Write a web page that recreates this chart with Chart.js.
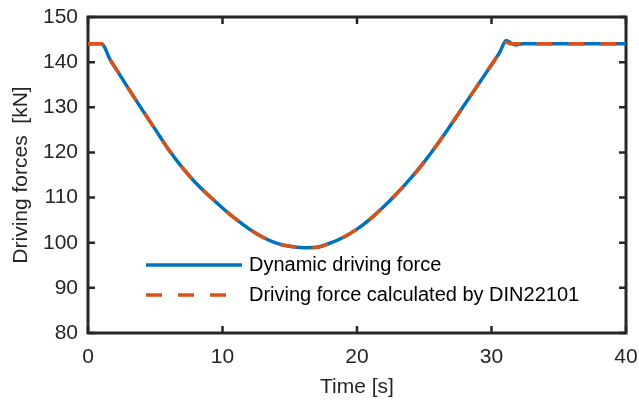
<!DOCTYPE html>
<html>
<head>
<meta charset="utf-8">
<script src="https://cdn.jsdelivr.net/npm/chart.js@4.4.1/dist/chart.umd.min.js"></script>
<style>
  html, body { margin: 0; padding: 0; background: #fff; }
</style>
</head>
<body>
<canvas id="forceChart" width="639" height="402"></canvas>
<script>
// time axis [s]
const timeS = [0, 0.5, 1.0, 1.2, 1.6, 2, 3, 4, 5, 6, 7, 8, 9, 10, 11, 12, 13, 14, 15, 16,
    17, 18, 19, 20, 21, 22, 23, 24, 25, 26, 27, 28, 29, 30, 30.6, 31.1, 31.4, 31.8, 32.3,
    34, 36, 38, 40];
// driving forces [kN]
const dynamicForce = [144.1, 144.1, 144.1, 143.5, 140.8, 138.9, 134.2, 129.6, 125.1, 120.6,
    116.7, 113.3, 110.4, 107.7, 105.2, 103.0, 101.2, 99.9, 99.2, 98.9, 99.0, 99.9, 101.2,
    103.0, 105.3, 108.0, 111.0, 114.3, 117.9, 121.9, 126.2, 130.6, 135.0, 139.4, 142.1,
    144.8, 144.3, 143.8, 144.1, 144.1, 144.1, 144.1, 144.1];
const dinForce = [144.1, 144.1, 144.1, 143.5, 140.8, 138.9, 134.2, 129.6, 125.1, 120.6,
    116.7, 113.3, 110.4, 107.7, 105.2, 103.0, 101.2, 99.9, 99.2, 98.9, 99.0, 99.9, 101.2,
    103.0, 105.3, 108.0, 111.0, 114.3, 117.9, 121.9, 126.2, 130.6, 135.0, 139.4, 142.1,
    144.4, 144.1, 144.1, 144.1, 144.1, 144.1, 144.1, 144.1];
const xTicks = [0, 10, 20, 30, 40];
const yTicks = [80, 90, 100, 110, 120, 130, 140, 150];

const axisColor = '#262626';
const dashPattern = [16, 16];

Chart.defaults.font.family = '"Liberation Sans", Arial, sans-serif';
Chart.defaults.font.size = 21;
Chart.defaults.color = axisColor;

function toPoints(values) {
    return timeS.map((t, i) => ({ x: t, y: values[i] }));
}

// MATLAB-like box with inward ticks
const boxPlugin = {
    id: 'matlabBox',
    beforeDatasetsDraw(chart) {
        const { ctx, chartArea: a, scales: { x, y } } = chart;
        ctx.save();
        ctx.strokeStyle = axisColor;
        ctx.lineWidth = 2.5;
        ctx.beginPath();
        x.ticks.forEach(t => {
            const px = x.getPixelForValue(t.value);
            ctx.moveTo(px, a.bottom); ctx.lineTo(px, a.bottom - 7);
            ctx.moveTo(px, a.top); ctx.lineTo(px, a.top + 7);
        });
        y.ticks.forEach(t => {
            const py = y.getPixelForValue(t.value);
            ctx.moveTo(a.left, py); ctx.lineTo(a.left + 7, py);
            ctx.moveTo(a.right, py); ctx.lineTo(a.right - 7, py);
        });
        ctx.stroke();
        ctx.lineWidth = 3;
        ctx.strokeRect(a.left, a.top, a.right - a.left, a.bottom - a.top);
        ctx.restore();
    }
};

// legend inside the plot, no frame
const legendPlugin = {
    id: 'insideLegend',
    afterDatasetsDraw(chart) {
        const { ctx, chartArea: a } = chart;
        const x0 = a.left + 58;
        const rows = [a.top + 248, a.top + 278];
        ctx.save();
        ctx.font = '20px "Liberation Sans", Arial, sans-serif';
        ctx.textBaseline = 'middle';
        ctx.fillStyle = '#000';
        chart.data.datasets.slice().sort((p, q) => p.legendRow - q.legendRow).forEach((ds, i) => {
            const yy = rows[i];
            ctx.strokeStyle = ds.borderColor;
            ctx.lineWidth = ds.borderWidth;
            ctx.setLineDash(ds.borderDash || []);
            ctx.beginPath();
            ctx.moveTo(x0, yy);
            ctx.lineTo(x0 + 96, yy);
            ctx.stroke();
            ctx.setLineDash([]);
            ctx.fillText(ds.label, x0 + 103, yy);
        });
        ctx.restore();
    }
};

new Chart(document.getElementById('forceChart').getContext('2d'), {
    type: 'line',
    data: {
        datasets: [
            {
                label: 'Driving force calculated by DIN22101',
                data: toPoints(dinForce),
                borderColor: '#D95319',
                borderWidth: 3.5,
                borderDash: dashPattern,
                legendRow: 1,
                order: 1
            },
            {
                label: 'Dynamic driving force',
                data: toPoints(dynamicForce),
                borderColor: '#0072BD',
                borderWidth: 3.5,
                legendRow: 0,
                order: 2
            }
        ]
    },
    options: {
        responsive: false,
        animation: false,
        devicePixelRatio: 1,
        layout: { padding: { left: 0, right: 13, top: 17, bottom: 0 } },
        elements: {
            point: { radius: 0 },
            line: { cubicInterpolationMode: 'monotone', borderCapStyle: 'butt', fill: false }
        },
        datasets: { line: { clip: false } },
        plugins: {
            legend: { display: false },
            tooltip: { enabled: false }
        },
        scales: {
            x: {
                type: 'linear',
                min: 0,
                max: 40,
                afterBuildTicks: scale => { scale.ticks = xTicks.map(v => ({ value: v })); },
                afterFit: scale => {
                    scale.height = 69;
                    scale.paddingLeft = 0;
                    scale.paddingRight = 0;
                },
                grid: { display: false, drawTicks: false },
                border: { display: false },
                ticks: { padding: 12, maxRotation: 0 },
                title: { display: true, text: 'Time [s]', padding: { top: 0, bottom: 2 } }
            },
            y: {
                type: 'linear',
                min: 80,
                max: 150,
                afterBuildTicks: scale => { scale.ticks = yTicks.map(v => ({ value: v })); },
                afterFit: scale => {
                    scale.width = 88;
                    scale.paddingTop = 0;
                    scale.paddingBottom = 0;
                },
                grid: { display: false, drawTicks: false },
                border: { display: false },
                ticks: { padding: 10 },
                title: { display: true, text: 'Driving forces  [kN]', padding: { top: 9, bottom: 0 } }
            }
        }
    },
    plugins: [boxPlugin, legendPlugin]
});
</script>
</body>
</html>
